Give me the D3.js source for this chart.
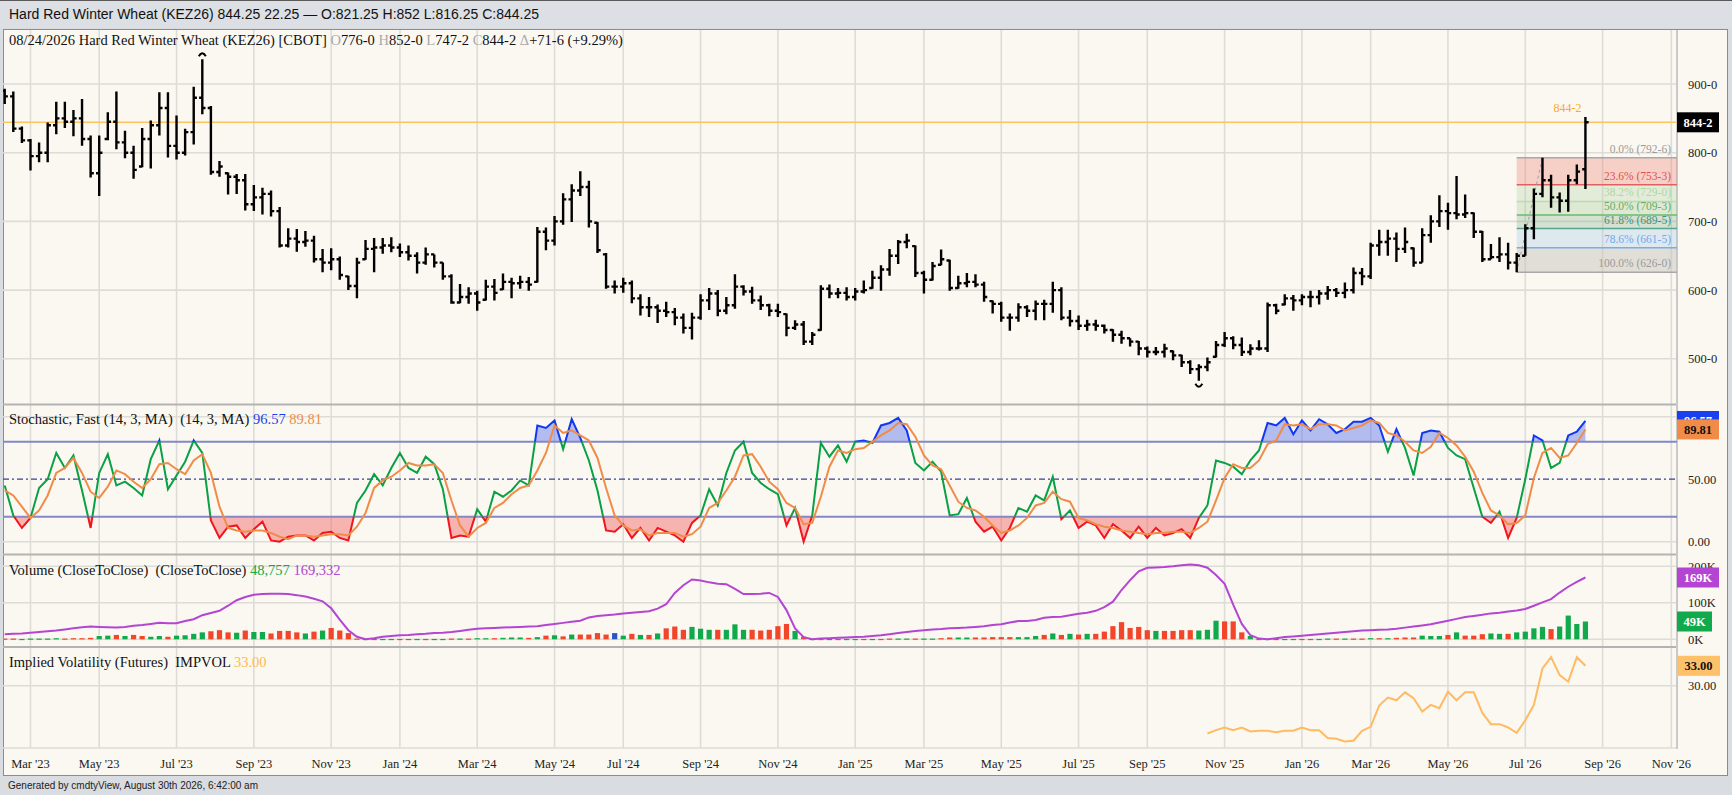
<!DOCTYPE html>
<html>
<head>
<meta charset="utf-8">
<script src="https://cdn.jsdelivr.net/npm/d3@7"></script>
<style>
  body { margin: 0; background: #d9dce0; }
  svg text { white-space: pre; }
</style>
</head>
<body>
<svg id="chart"></svg>
<script>
// Weekly bars, first bar is the week of 02/13/2023
var firstWeek = new Date(2023, 1, 13);

var highs = [893,889,838,820,815,844,874,874,862,878, 825,825,859,889,832,810,836,847,888,888,
  854,835,896,936,868,788,771,769,769,753, 749,745,721,690,689,686,679,660,661,649,
  621,647,673,676,676,677,668,665,655,662, 652,640,623,609,604,599,615,616,624,618,
  621,619,692,691,708,741,754,773,759,699, 654,614,618,614,594,590,579,583,574,566,
  567,594,603,600,590,623,607,605,592,580, 580,566,556,555,539,607,608,603,604,603,
  614,628,636,660,673,682,665,628,641,659, 644,621,625,623,612,585,583,566,581,578,
  585,586,612,604,571,563,557,557,550,543, 541,530,526,518,517,522,512,506,498,492,
  502,526,539,533,531,521,527,582,580,594, 593,594,599,600,606,603,611,633,632,669,
  688,688,684,691,662,690,709,738,727,766, 739,713,686,667,677,669,654,696,748,792.75,
  768,742,768,783,852];
var lows = [871,830,814,774,786,786,827,836,824,810, 764,737,818,805,792,762,779,777,825,793,
  790,796,812,856,768,765,739,740,716,715, 710,707,662,662,656,663,640,626,629,615,
  600,588,644,626,653,655,648,643,624,637, 633,615,580,581,580,570,585,585,600,588,
  602,599,611,658,665,695,699,737,691,654, 602,595,596,581,563,561,552,561,549,537,
  528,557,571,562,565,573,592,580,571,562, 561,533,542,520,520,541,588,588,585,585,
  595,602,599,621,638,661,619,595,614,636, 599,602,604,604,583,566,554,541,554,561,
  556,556,567,556,547,542,541,541,537,525, 522,518,505,502,505,502,498,488,478,468,
  482,502,517,514,504,505,512,510,565,578, 570,578,575,579,586,590,588,595,607,616,
  650,650,641,654,634,640,669,692,688,703, 705,676,641,645,641,630,626,650,674,735,
  720,713,714,754,747.25];
var opens = [890,882,835,818,795,800,840,850,845,850, 820,770,820,845,815,800,780,820,840,865,
  810,800,830,880,865,772,770,765,760,725, 735,740,715,665,675,670,672,645,640,645,
  620,606,645,660,662,665,662,655,650,640, 652,640,620,582,590,595,586,605,601,612,
  610,612,612,685,672,700,732,745,750,698, 652,605,605,610,588,575,575,570,568,560,
  545,560,585,595,570,578,605,598,585,578, 570,565,545,550,525,542,602,595,596,590,
  598,603,618,630,650,670,664,625,615,637, 643,603,610,612,608,584,580,560,560,575,
  570,580,580,600,560,555,548,550,548,542, 535,530,525,515,510,510,511,505,495,485,
  488,503,520,530,520,510,515,515,578,579, 588,585,590,590,595,600,596,600,625,620,
  665,670,675,660,661,640,680,700,715,712, 710,712,685,645,648,652,640,650,690,740,
  760,735,730,760,776];
var closes = [882,835,818,795,800,840,850,845,850,820, 770,800,845,815,800,775,820,840,865,810,
  800,830,880,865,772,780,765,760,725,735, 740,715,665,675,670,672,645,640,645,622,
  606,640,660,662,665,662,655,650,640,652, 640,620,582,590,595,582,605,596,612,610,
  612,608,685,672,700,732,745,750,700,658, 605,605,610,588,575,575,570,568,560,545,
  560,585,595,570,578,605,598,585,578,570, 568,545,550,525,535,602,595,596,590,598,
  600,618,630,650,670,672,625,615,635,645, 603,610,612,608,590,580,560,560,575,570,
  580,580,600,560,555,548,550,548,542,535, 530,525,515,510,510,515,505,495,485,488,
  495,520,530,520,510,515,515,578,570,588, 585,590,590,595,600,596,600,625,620,665,
  670,675,660,670,640,680,700,715,712,710, 712,685,645,648,652,640,650,690,740,760,
  735,730,760,772.5,844.25];

// Stochastic fast %K and %D
var stochK = [45,21,11,19,43,50,71,59,69,41, 11,55,70,45,48,43,37,66,81,42,
  53,64,81,71,17,3,12,13,3,10, 16,1,0,4,5,5,1,7,8,3,
  1,31,41,54,45,59,71,59,55,68, 62,42,3,5,4,26,16,40,36,41,
  49,45,93,91,97,74,98,83,65,41, 9,8,14,3,11,1,11,8,5,0,
  15,21,42,29,55,73,80,55,47,42, 38,13,27,0,21,79,68,77,64,80,
  81,79,93,95,99,89,63,57,64,56, 21,22,35,16,8,12,1,11,27,24,
  37,33,52,18,25,11,16,13,3,14, 9,3,12,3,11,5,7,10,3,19,
  29,65,63,60,54,65,73,95,93,99, 86,97,89,98,94,87,90,96,96,99,
  93,72,90,75,53,87,89,88,75,69, 66,43,20,15,24,3,19,50,85,81,
  59,63,85,88,96.57];
var stochD = [41,37,28,19,25,37,55,59,67,55, 40,35,44,57,54,48,43,50,62,63,
  58,54,65,70,55,28,11,9,8,9, 9,7,4,2,5,5,4,5,6,6,
  5,12,23,43,49,52,57,63,61,61, 62,55,33,13,4,11,15,27,31,38,
  43,45,57,71,93,87,89,85,81,67, 43,21,13,9,10,5,7,7,7,4,
  6,12,27,31,41,52,69,70,60,48, 42,31,27,14,15,36,60,73,71,74,
  75,80,85,89,95,94,84,69,61,58, 45,32,27,25,20,13,7,9,13,19,
  29,31,40,34,32,19,17,14,12,11, 9,8,7,6,7,7,8,8,7,11,
  16,33,51,62,59,59,65,78,81,94, 93,94,90,94,94,93,89,91,93,97,
  95,87,85,80,73,71,76,87,83,77, 68,56,39,25,21,14,15,21,51,71,
  75,67,69,79,89.81];

// Volume and open interest, in thousands
var volume = [2,2,1,2,2,2,3,2,3,3,4,
  9,10,12,9,12,9,7,9,7,10, 11,15,19,22,25,19,18,24,20,20, 16,23,23,19,16,21,24,31,24,17,
  2,1,1,1,1,1,1,1,1,1,1,2,2,2,3,3,3,4,
  5,5,4,6,10,11,8,13,13,13, 17,13,17,10,15,12,12,16,30,35, 26,34,29,26,26,26,41,26,26,24, 26,36,42,23,7,
  1,1,1,1,1,1,1,1,1,2,2,2,2,2,2,
  3,5,5,5,5,5,6,6,6,6, 6,9,12,16,12,15,13,15,15,21, 36,47,31,34,25,23,23,23,25,25, 24,26,51,49,49,19,9,
  1,1,1,1,1,1,1,1,2,2,2,2,2,3,3,3,4,
  5,5,10,9,9,12,19,10,10,14, 16,15,15,19,21,30,34,28,35,65, 42,48.757];
var volumeDir = ("rrgggggrrrr" + "ggrgrrggrg" + "gggrrrgrgg" + "rrrrgrgrrr" + "rgrggrrgrggrgrggrg" +
  "ggrgrgrgrr" + "rrbgrgrgrr" + "rgggrgggrr" + "rrrgr" + "grgrggrgrrggrgg" +
  "rrggrrrrrg" + "ggrgrgrgrr" + "rrrrrgrrrr" + "gggrrrg" + "rgrggrrggrgrrgrgr" +
  "rrgggrgrrr" + "ggrggggrgg" + "gg").split("");
var openInterest = [14,15,16,18,20,22,24,27,30,33, 35,34,33,32,34,37,39,42,45,44,
  44,50,55,66,72,78,92,107,116,122, 124,125,125,124,121,117,111,104,85,54,
  25,7,0,3,7,9,11,12,14,15, 17,18,
  20,23,26,29,30,31,32,33, 34,35,36,39,42,45,48,51,60,64,
  66,68,71,73,75,77,84,96,127,148, 164,161,156,152,151,138,124,124,125,127,
  116,80,30,6,0,2,3,4,5,6,
  7,9,11,14,17,20,23,25,27,28, 30,31,32,34,36,39,41,46,50,50,
  53,59,61,62,66,70,73,78,88,103, 135,162,186,196,197,198,200,203,205,203,
  196,176,152,95,42,11,2,0,
  3,6,8,10,12,14,16,18,20,22, 24,25,26,27,29,32,35,38,41,46,
  51,56,61,64,67,71,73,76,79,83, 92,101,110,128,144,157,169.332];

// Implied volatility starts at bar 140 (Oct '25)
var ivStart = 140;
var impVol = [22.8,23.3,23.7,23.3,23.7,23.1,23.2,23.2,23.0,23.2, 23.2,23.7,23.3,23.3,22.1,22.0,21.6,21.7,23.2,23.8,
  27.0,28.2,27.8,29.0,28.1,26.1,27.1,26.6,29.1,27.8, 29.0,29.0,25.9,24.2,24.2,23.7,22.9,24.8,27.1,32.6,
  34.3,31.6,30.6,34.3,33.0];

var tickLabels = ["Mar '23","May '23","Jul '23","Sep '23","Nov '23","Jan '24","Mar '24","May '24",
  "Jul '24","Sep '24","Nov '24","Jan '25","Mar '25","May '25","Jul '25","Sep '25","Nov '25",
  "Jan '26","Mar '26","May '26","Jul '26","Sep '26","Nov '26"];

var priceTicks = [500, 600, 700, 800, 900];
var fibPct = ["0.0%", "23.6%", "38.2%", "50.0%", "61.8%", "78.6%", "100.0%"];
var fibPrices = [792.75, 753.375, 729, 709.375, 689.625, 661.625, 626];
var fibLow = { bar: 176, price: 626 }, fibHigh = { bar: 179, price: 792.75 };

// Chart params
var svgWidth = 1732, svgHeight = 795;
var plotLeft = 3, plotRight = 1677;
var serif = "'Liberation Serif','DejaVu Serif',serif";
var sans = "'Liberation Sans','DejaVu Sans',sans-serif";
var labelSize = 14.5;

var svg = d3.select("#chart")
  .attr("width", svgWidth)
  .attr("height", svgHeight)
  .style("display", "block");

var n = closes.length;
var idx = d3.range(n);

// scales
var x = d3.scaleLinear().domain([-0.2, 194.66]).range([plotLeft, plotRight]);
var yMain = d3.scaleLinear().domain([500, 900]).range([358.8, 84]);
var yStoch = d3.scaleLinear().domain([0, 100]).range([541.7, 416.7]);
var yVol = d3.scaleLinear().domain([0, 200]).range([639.3, 566.3]);
var yIV = d3.scaleLinear().domain([30, 33]).range([685.7, 665.8]);

function fmt8(p) {
  var whole = Math.floor(p);
  return whole + "-" + Math.round((p - whole) * 8);
}

// page chrome
svg.append("rect").attr("width", svgWidth).attr("height", svgHeight).attr("fill", "#d9dce0");
svg.append("rect").attr("width", svgWidth).attr("height", 28).attr("fill", "#dcdfe3");
svg.append("line").attr("x1", 0).attr("x2", svgWidth).attr("y1", 0.5).attr("y2", 0.5)
  .attr("stroke", "#5a5a5a");
svg.append("rect")
  .attr("x", 3.5).attr("y", 29.5).attr("width", 1724).attr("height", 746)
  .attr("fill", "#faf8f1").attr("stroke", "#8c8c8c");

svg.append("text").attr("x", 9).attr("y", 19)
  .attr("font-family", sans).attr("font-size", 14).attr("fill", "#111")
  .text("Hard Red Winter Wheat (KEZ26) 844.25 22.25 \u2014 O:821.25 H:852 L:816.25 C:844.25");
svg.append("text").attr("x", 8).attr("y", 789)
  .attr("font-family", sans).attr("font-size", 10).attr("fill", "#222")
  .text("Generated by cmdtyView, August 30th 2026, 6:42:00 am");

var defs = svg.append("defs");
function clip(id, y0, y1) {
  defs.append("clipPath").attr("id", id).append("rect")
    .attr("x", plotLeft).attr("y", y0).attr("width", plotRight - plotLeft).attr("height", y1 - y0);
}
clip("clipMain", 30, 403);
clip("clipStoch", 406, 553);
clip("clipVol", 556, 646);
clip("clipIV", 648, 748);
clip("clipAbove", 406, yStoch(80));
clip("clipMid", yStoch(80), yStoch(20));
clip("clipBelow", yStoch(20), 553);

var grid = svg.append("g").attr("stroke", "#dedcd7").attr("stroke-width", 1.6);

// month ticks: first weekly bar inside each labelled month
var parseTick = d3.timeParse("%b '%y");
var ticks = tickLabels.map(function(label) {
  var days = d3.timeDay.count(firstWeek, parseTick(label));
  return { label: label, i: Math.ceil(days / 7) };
});

grid.selectAll("line.v").data(ticks).enter().append("line")
  .attr("x1", d => x(d.i)).attr("x2", d => x(d.i))
  .attr("y1", 30).attr("y2", 748);

var hLines = priceTicks.map(yMain)
  .concat([yStoch(0), yStoch(100), yVol(0), yVol(100), yVol(200), yIV(30), 748]);
grid.selectAll("line.h").data(hLines).enter().append("line")
  .attr("x1", plotLeft).attr("x2", plotRight)
  .attr("y1", d => d).attr("y2", d => d);

// panel separators and right axis
svg.append("g").attr("stroke", "#b3b3b3").attr("stroke-width", 2)
  .selectAll("line").data([404.5, 554.5, 647]).enter().append("line")
  .attr("x1", plotLeft).attr("x2", plotRight).attr("y1", d => d).attr("y2", d => d);
svg.append("line").attr("x1", plotRight).attr("x2", plotRight).attr("y1", 30).attr("y2", 749)
  .attr("stroke", "#c9c9c9").attr("stroke-width", 2);

// x axis labels
svg.append("g").selectAll("text").data(ticks).enter().append("text")
  .attr("x", d => x(d.i)).attr("y", 768)
  .attr("text-anchor", "middle").attr("font-family", serif).attr("font-size", 12.5).attr("fill", "#222")
  .text(d => d.label);

// ---------- main price panel ----------
var mainG = svg.append("g").attr("clip-path", "url(#clipMain)");

// fibonacci retracement zone
var fibFills = ["rgba(238,120,110,0.32)", "rgba(170,205,150,0.28)", "rgba(150,195,135,0.28)",
  "rgba(120,170,130,0.28)", "rgba(160,195,235,0.3)", "rgba(200,195,190,0.5)"];
var fibStroke = ["#a8a8a8", "#e06060", "#b9dcb0", "#6cb86c", "#5aa58e", "#78aee6", "#a8a8a8"];
var fibText = ["#9a9a9a", "#e05252", "#b0d6a6", "#64ae64", "#3f9480", "#6ea8ee", "#9a9a9a"];
var fibX0 = x(fibLow.bar);

mainG.selectAll("rect.fib").data(fibFills).enter().append("rect")
  .attr("x", fibX0).attr("width", plotRight - fibX0)
  .attr("y", (d, k) => yMain(fibPrices[k]))
  .attr("height", (d, k) => yMain(fibPrices[k + 1]) - yMain(fibPrices[k]))
  .attr("fill", d => d);
mainG.selectAll("line.fib").data(fibPrices).enter().append("line")
  .attr("x1", fibX0).attr("x2", plotRight)
  .attr("y1", d => yMain(d)).attr("y2", d => yMain(d))
  .attr("stroke", (d, k) => fibStroke[k]).attr("stroke-width", 1.5);
mainG.selectAll("text.fib").data(fibPrices).enter().append("text")
  .attr("x", 1671).attr("y", d => yMain(d) - 5)
  .attr("text-anchor", "end").attr("font-family", serif).attr("font-size", 11.5)
  .attr("fill", (d, k) => fibText[k])
  .text((d, k) => fibPct[k] + " (" + fmt8(d) + ")");
mainG.append("line")
  .attr("x1", x(fibLow.bar)).attr("y1", yMain(fibLow.price))
  .attr("x2", x(fibHigh.bar)).attr("y2", yMain(fibHigh.price))
  .attr("stroke", "#a0a0a0").attr("stroke-dasharray", "3,3");

// last price line
var last = closes[n - 1];
mainG.append("line")
  .attr("x1", plotLeft).attr("x2", plotRight)
  .attr("y1", yMain(last)).attr("y2", yMain(last))
  .attr("stroke", "#fdc45e").attr("stroke-width", 1.6);
mainG.append("text")
  .attr("x", x(n - 1) - 4).attr("y", yMain(last) - 10)
  .attr("text-anchor", "end").attr("font-family", serif).attr("font-size", 12).attr("fill", "#ffaa1e")
  .text(fmt8(last));

// OHLC bars
mainG.append("g").attr("stroke", "#000").attr("fill", "none")
  .selectAll("path").data(idx).enter().append("path")
  .attr("stroke-width", 2.4)
  .attr("d", function(i) {
    var cx = x(i);
    return "M" + cx + "," + yMain(highs[i]) + "V" + yMain(lows[i]) +
      "M" + (cx - 3.2) + "," + yMain(opens[i]) + "H" + cx +
      "M" + cx + "," + yMain(closes[i]) + "H" + (cx + 3.2);
  });

// high / low markers
var hiBar = d3.maxIndex(highs), loBar = d3.minIndex(lows);
mainG.append("path")
  .attr("d", "M" + (x(hiBar) - 3.5) + "," + (yMain(highs[hiBar]) - 3) + "Q" + x(hiBar) + "," +
    (yMain(highs[hiBar]) - 9) + " " + (x(hiBar) + 3.5) + "," + (yMain(highs[hiBar]) - 3))
  .attr("fill", "none").attr("stroke", "#000").attr("stroke-width", 2);
mainG.append("path")
  .attr("d", "M" + (x(loBar) - 3.5) + "," + (yMain(lows[loBar]) + 3) + "Q" + x(loBar) + "," +
    (yMain(lows[loBar]) + 9) + " " + (x(loBar) + 3.5) + "," + (yMain(lows[loBar]) + 3))
  .attr("fill", "none").attr("stroke", "#000").attr("stroke-width", 2);

// header
var header = svg.append("text").attr("x", 9).attr("y", 45)
  .attr("font-family", serif).attr("font-size", labelSize).attr("fill", "#111");
header.append("tspan").text("08/24/2026 Hard Red Winter Wheat (KEZ26) [CBOT] ");
[["O", "776-0 "], ["H", "852-0 "], ["L", "747-2 "], ["C", "844-2 "], ["\u0394", "+71-6 (+9.29%)"]]
  .forEach(function(p) {
    header.append("tspan").attr("fill", "#a9a9a9").text(p[0]);
    header.append("tspan").text(p[1]);
  });

// ---------- stochastic panel ----------
var stochG = svg.append("g").attr("clip-path", "url(#clipStoch)");
var kLine = d3.line().x((d, i) => x(i)).y(d => yStoch(d));

stochG.append("path").datum(stochK).attr("clip-path", "url(#clipAbove)")
  .attr("fill", "rgba(80,105,235,0.42)")
  .attr("d", d3.area().x((d, i) => x(i)).y0(yStoch(80)).y1(d => yStoch(d)));
stochG.append("path").datum(stochK).attr("clip-path", "url(#clipBelow)")
  .attr("fill", "rgba(245,95,95,0.45)")
  .attr("d", d3.area().x((d, i) => x(i)).y0(yStoch(20)).y1(d => yStoch(d)));

stochG.selectAll("line.band").data([80, 20]).enter().append("line")
  .attr("x1", plotLeft).attr("x2", plotRight)
  .attr("y1", d => yStoch(d)).attr("y2", d => yStoch(d))
  .attr("stroke", "#8587c6").attr("stroke-width", 2);
stochG.append("line")
  .attr("x1", plotLeft).attr("x2", plotRight).attr("y1", yStoch(50)).attr("y2", yStoch(50))
  .attr("stroke", "#3b3f95").attr("stroke-width", 1.2).attr("stroke-dasharray", "6,3,2,3");

[["clipAbove", "#1237f2"], ["clipMid", "#0aa045"], ["clipBelow", "#f2141e"]].forEach(function(c) {
  stochG.append("g").attr("clip-path", "url(#" + c[0] + ")")
    .append("path").datum(stochK)
    .attr("fill", "none").attr("stroke", c[1]).attr("stroke-width", 2)
    .attr("d", kLine);
});
stochG.append("path").datum(stochD)
  .attr("fill", "none").attr("stroke", "#f08c48").attr("stroke-width", 2)
  .attr("d", kLine);

var stochLabel = svg.append("text").attr("x", 9).attr("y", 424)
  .attr("font-family", serif).attr("font-size", labelSize).attr("fill", "#111");
stochLabel.append("tspan").text("Stochastic, Fast (14, 3, MA)  (14, 3, MA) ");
stochLabel.append("tspan").attr("fill", "#1a3ff0").text(stochK[n - 1].toFixed(2));
stochLabel.append("tspan").text(" ");
stochLabel.append("tspan").attr("fill", "#f08c48").text(stochD[n - 1].toFixed(2));

// ---------- volume panel ----------
var volG = svg.append("g").attr("clip-path", "url(#clipVol)");
var volColor = { g: "#10aa4c", r: "#f2452a", b: "#2b55c0" };
volG.selectAll("rect").data(idx).enter().append("rect")
  .attr("x", i => x(i) - 2.6).attr("width", 5.2)
  .attr("y", i => yVol(volume[i]))
  .attr("height", i => Math.max(1.2, yVol(0) - yVol(volume[i])))
  .attr("fill", i => volColor[volumeDir[i]]);
volG.append("path").datum(openInterest)
  .attr("fill", "none").attr("stroke", "#b445d2").attr("stroke-width", 2)
  .attr("d", d3.line().x((d, i) => x(i)).y(d => yVol(d)));

var volLabel = svg.append("text").attr("x", 9).attr("y", 575)
  .attr("font-family", serif).attr("font-size", labelSize).attr("fill", "#111");
volLabel.append("tspan").text("Volume (CloseToClose)  (CloseToClose) ");
volLabel.append("tspan").attr("fill", "#10aa4c").text(d3.format(",")(Math.round(volume[n - 1] * 1000)));
volLabel.append("tspan").text(" ");
volLabel.append("tspan").attr("fill", "#b445d2").text(d3.format(",")(Math.round(openInterest[n - 1] * 1000)));

// ---------- implied volatility panel ----------
var ivG = svg.append("g").attr("clip-path", "url(#clipIV)");
ivG.append("path").datum(impVol)
  .attr("fill", "none").attr("stroke", "#ffba62").attr("stroke-width", 2)
  .attr("d", d3.line().x((d, j) => x(ivStart + j)).y(d => yIV(d)));

var ivLabel = svg.append("text").attr("x", 9).attr("y", 667)
  .attr("font-family", serif).attr("font-size", labelSize).attr("fill", "#111");
ivLabel.append("tspan").text("Implied Volatility (Futures)  IMPVOL ");
ivLabel.append("tspan").attr("fill", "#ffb84d").text(impVol[impVol.length - 1].toFixed(2));

// ---------- right axis labels ----------
var axisLabels = priceTicks.map(p => ({ y: yMain(p), t: fmt8(p) }))
  .concat([{ y: yStoch(50), t: "50.00" }, { y: yStoch(0), t: "0.00" },
    { y: yVol(200), t: "200K" }, { y: yVol(100), t: "100K" }, { y: yVol(0), t: "0K" },
    { y: yIV(30), t: "30.00" }]);
svg.append("g").selectAll("text").data(axisLabels).enter().append("text")
  .attr("x", 1688).attr("y", d => d.y + 4.5)
  .attr("font-family", serif).attr("font-size", 12.5).attr("fill", "#222")
  .text(d => d.t);

// value boxes on the axis
var boxes = [
  { y: yMain(last), t: fmt8(last), bg: "#000", fg: "#fff", w: 42 },
  { y: yStoch(stochK[n - 1]), t: stochK[n - 1].toFixed(2), bg: "#1a3ff0", fg: "#fff", w: 42 },
  { y: yStoch(stochD[n - 1]), t: stochD[n - 1].toFixed(2), bg: "#f08c48", fg: "#111", w: 42 },
  { y: yVol(openInterest[n - 1]), t: Math.round(openInterest[n - 1]) + "K", bg: "#b445d2", fg: "#fff", w: 42 },
  { y: yVol(volume[n - 1]), t: Math.round(volume[n - 1]) + "K", bg: "#10aa4c", fg: "#fff", w: 35 },
  { y: yIV(impVol[impVol.length - 1]), t: impVol[impVol.length - 1].toFixed(2), bg: "#ffc06a", fg: "#111", w: 43 }
];
var boxG = svg.append("g").selectAll("g").data(boxes).enter().append("g");
boxG.append("rect")
  .attr("x", plotRight).attr("y", d => d.y - 10).attr("width", d => d.w).attr("height", 20)
  .attr("fill", d => d.bg);
boxG.append("text")
  .attr("x", d => plotRight + d.w / 2).attr("y", d => d.y + 4.5)
  .attr("text-anchor", "middle").attr("font-family", serif).attr("font-weight", "bold")
  .attr("font-size", 12.5).attr("fill", d => d.fg)
  .text(d => d.t);
</script>
</body>
</html>
